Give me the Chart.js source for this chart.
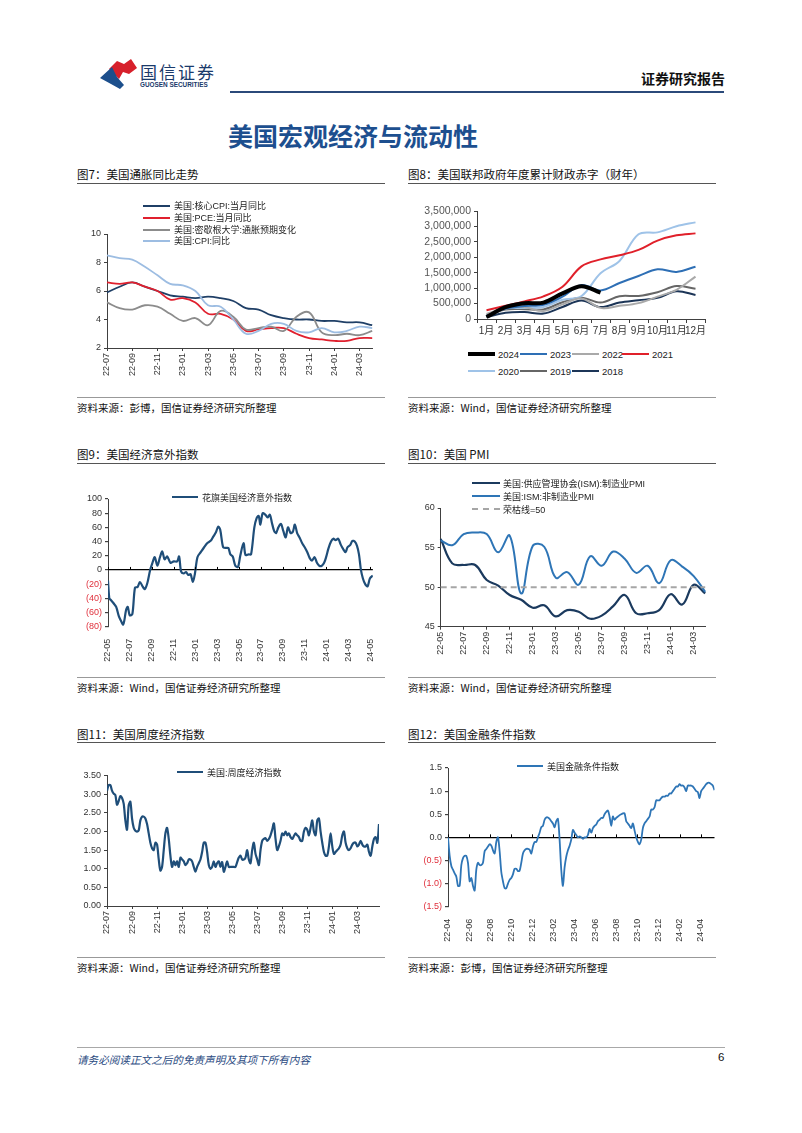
<!DOCTYPE html>
<html>
<head>
<meta charset="utf-8">
<script src="https://cdn.jsdelivr.net/npm/chart.js@4.4.1/dist/chart.umd.min.js"></script>
<style>
body { margin: 0; background: #fff; font-family: "Noto Sans CJK SC", sans-serif; }
#page { position: relative; width: 802px; height: 1133px; overflow: hidden; background: #fff; }
canvas { position: absolute; }
.ftitle { position: absolute; font-size: 11.5px; line-height: 14px; color: #111; white-space: nowrap; }
.src { position: absolute; font-size: 10.5px; line-height: 14px; color: #111; white-space: nowrap; }
.rule { position: absolute; height: 0; }
.li { position: absolute; height: 14px; display: flex; align-items: center; white-space: nowrap; color: #222; font-family: "Liberation Sans", "Noto Sans CJK SC", sans-serif; }
.li i { display: inline-block; height: 0; }
</style>
</head>
<body>
<div id="page">
  <!-- header -->
  <svg style="position:absolute;left:0;top:0" width="140" height="100">
    <path d="M109,69 L117,61 L124,64 L131,59 L137,68 L129,74 L123,72 L119,79 Z" fill="#d7202b"/>
    <path d="M100,78 L112,67 L117,77 L124,85 L120,89 L111,84 Z" fill="#1c4f8c"/>
  </svg>
  <div style="position:absolute;left:140px;top:59px;font-size:17px;letter-spacing:2px;color:#1a3a6b;">国信证券</div>
  <div style="position:absolute;left:140px;top:81px;font-size:6.4px;font-weight:bold;color:#1a3a6b;font-family:'Liberation Sans',sans-serif;">GUOSEN SECURITIES</div>
  <div style="position:absolute;left:641px;top:68px;font-size:14px;font-weight:bold;color:#111;">证券研究报告</div>
  <div class="rule" style="left:230px;top:91px;width:494px;border-top:2px solid #2b4a7a;"></div>
  <div style="position:absolute;left:228px;top:117px;font-size:25px;font-weight:bold;color:#1d4f8f;">美国宏观经济与流动性</div>

  <!-- row 1 -->
  <div class="ftitle" style="left:77px;top:167px;">图7：美国通胀同比走势</div>
  <div class="rule" style="left:77px;top:183px;width:308px;border-top:1.5px solid #555;"></div>
  <div class="rule" style="left:77px;top:397px;width:308px;border-top:1px solid #999;"></div>
  <div class="src" style="left:77px;top:401px;">资料来源：彭博，国信证券经济研究所整理</div>

  <div class="ftitle" style="left:408px;top:167px;">图8：美国联邦政府年度累计财政赤字（财年）</div>
  <div class="rule" style="left:408px;top:183px;width:308px;border-top:1.5px solid #555;"></div>
  <div class="rule" style="left:408px;top:397px;width:308px;border-top:1px solid #999;"></div>
  <div class="src" style="left:408px;top:401px;">资料来源：Wind，国信证券经济研究所整理</div>

  <!-- row 2 -->
  <div class="ftitle" style="left:77px;top:447px;">图9：美国经济意外指数</div>
  <div class="rule" style="left:77px;top:463px;width:308px;border-top:1.5px solid #555;"></div>
  <div class="rule" style="left:77px;top:677px;width:308px;border-top:1px solid #999;"></div>
  <div class="src" style="left:77px;top:681px;">资料来源：Wind，国信证券经济研究所整理</div>

  <div class="ftitle" style="left:408px;top:447px;">图10：美国 PMI</div>
  <div class="rule" style="left:408px;top:463px;width:308px;border-top:1.5px solid #555;"></div>
  <div class="rule" style="left:408px;top:677px;width:308px;border-top:1px solid #999;"></div>
  <div class="src" style="left:408px;top:681px;">资料来源：Wind，国信证券经济研究所整理</div>

  <!-- row 3 -->
  <div class="ftitle" style="left:77px;top:727px;">图11：美国周度经济指数</div>
  <div class="rule" style="left:77px;top:742px;width:308px;border-top:1.5px solid #555;"></div>
  <div class="rule" style="left:77px;top:957px;width:308px;border-top:1px solid #999;"></div>
  <div class="src" style="left:77px;top:961px;">资料来源：Wind，国信证券经济研究所整理</div>

  <div class="ftitle" style="left:408px;top:727px;">图12：美国金融条件指数</div>
  <div class="rule" style="left:408px;top:742px;width:308px;border-top:1.5px solid #555;"></div>
  <div class="rule" style="left:408px;top:957px;width:308px;border-top:1px solid #999;"></div>
  <div class="src" style="left:408px;top:961px;">资料来源：彭博，国信证券经济研究所整理</div>

  <!-- footer -->
  <div class="rule" style="left:77px;top:1047px;width:648px;border-top:1.5px solid #a8a8a8;"></div>
  <div style="position:absolute;left:77px;top:1052px;font-size:10.6px;font-style:italic;color:#2a4a7f;">请务必阅读正文之后的免责声明及其项下所有内容</div>
  <div style="position:absolute;left:718px;top:1051px;font-size:11.5px;color:#111;font-family:'Liberation Sans',sans-serif;">6</div>
</div>

<script>
// ---------- data ----------
// 图7 美国通胀（%）
var inflMonths = ['22-07','22-08','22-09','22-10','22-11','22-12','23-01','23-02','23-03','23-04','23-05','23-06',
                  '23-07','23-08','23-09','23-10','23-11','23-12','24-01','24-02','24-03','24-04'];
var coreCpi  = [5.9,6.3,6.6,6.3,6.0,5.7,5.6,5.5,5.6,5.5,5.3,4.8,4.7,4.3,4.1,4.0,4.0,3.9,3.9,3.8,3.8,3.6];
var pce      = [6.6,6.5,6.6,6.3,6.0,5.4,5.5,5.2,4.4,4.4,4.0,3.2,3.3,3.4,3.4,3.0,2.7,2.6,2.5,2.5,2.7,2.7];
var michigan = [5.2,4.8,4.7,5.0,4.9,4.4,3.9,4.1,3.6,4.6,4.2,3.3,3.4,3.5,3.2,4.2,4.5,3.1,2.9,3.0,2.9,3.2];
var cpi      = [8.5,8.3,8.2,7.7,7.1,6.5,6.4,6.0,5.0,4.9,4.0,3.0,3.2,3.7,3.7,3.2,3.1,3.4,3.1,3.2,3.5,3.4];

// 图8 财年累计赤字（百万美元）
var fiscalMonths = ['1月','2月','3月','4月','5月','6月','7月','8月','9月','10月','11月','12月'];
var deficit2024 = [67000,382000,510000,532000,828000,1065000,855000];
var deficit2023 = [88000,337000,421000,460000,723000,1100000,925000,1165000,1393000,1613000,1525000,1695000];
var deficit2022 = [165000,356000,377000,259000,475000,668000,360000,426000,515000,726000,946000,1375000];
var deficit2021 = [284000,429000,572000,735000,1047000,1706000,1932000,2064000,2238000,2540000,2711000,2775000];
var deficit2020 = [134000,343000,357000,389000,625000,744000,1482000,1881000,2745000,2808000,3007000,3132000];
var deficit2019 = [100000,305000,319000,310000,544000,691000,531000,739000,747000,867000,1067000,984000];
var deficit2018 = [63000,201000,225000,176000,391000,600000,386000,532000,607000,684000,898000,779000];

// 图9 花旗经济意外指数：时间为自22-05起的月数
var citiMonths = [0,0.12,0.24,0.51,0.75,0.99,1.23,1.39,1.51,1.66,1.81,1.99,2.23,2.47,2.71,2.92,3.16,3.37,3.61,3.86,
  4.07,4.28,4.52,4.76,4.97,5.18,5.42,5.72,6.02,6.33,6.51,6.69,6.93,7.14,7.35,7.56,7.77,7.95,8.19,8.49,
  8.80,9.10,9.40,9.64,9.88,10.09,10.27,10.54,10.78,11.02,11.20,11.42,11.66,11.90,12.11,12.41,12.59,12.89,13.10,13.40,
  13.61,13.80,13.95,14.16,14.40,14.61,14.82,15.00,15.21,15.39,15.60,15.84,16.05,16.27,16.48,16.72,16.93,17.11,17.32,17.56,
  17.77,18.01,18.25,18.46,18.67,18.92,19.13,19.34,19.58,19.79,19.97,20.18,20.42,20.63,20.84,21.08,21.30,21.51,21.75,21.93,
  22.17,22.38,22.59,22.80,22.98,23.16,23.34,23.55,23.77,23.98,24.25];
var citiValues = [-15,-40,-42,-47,-52,-65,-73,-77,-70,-56,-52,-64,-62,-25,-24,-17,-23,-27,-18,0,
  10,18,6,18,26,15,19,10,12,12,19,-2,-5,-3,-7,-6,-17,-6,18,25,
  32,38,41,47,53,61,57,32,31,31,22,19,6,4,20,38,21,22,22,60,
  73,76,64,80,78,74,78,67,55,52,60,65,55,46,60,52,54,64,52,45,
  38,32,25,17,13,18,10,6,6,10,18,30,40,44,42,44,36,30,25,32,
  35,41,40,34,22,0,-12,-20,-23,-12,-8];
var citiTicks = ['22-05','22-07','22-09','22-11','23-01','23-03','23-05','23-07','23-09','23-11','24-01','24-03','24-05'];

// 图10 ISM PMI
var pmiMonths = ['22-05','22-06','22-07','22-08','22-09','22-10','22-11','22-12','23-01','23-02','23-03','23-04',
                 '23-05','23-06','23-07','23-08','23-09','23-10','23-11','23-12','24-01','24-02','24-03','24-04'];
var ismMfg = [56.1,53.0,52.8,52.8,50.9,50.2,49.0,48.4,47.4,47.7,46.3,47.1,46.9,46.0,46.4,47.6,49.0,46.7,46.7,47.1,49.1,47.8,50.3,49.2];
var ismSvc = [55.9,55.3,56.7,56.9,56.7,54.4,56.5,49.2,55.2,55.1,51.2,51.9,50.3,53.9,52.7,54.5,53.6,51.8,52.7,50.5,53.4,52.6,51.4,49.4];
var pmiThreshold = 50;

// 图11 周度经济指数：22-07 起，至约 21.7 个月
var weiSpanMonths = 21.73;
var weiValues = [3.10,3.25,3.25,3.10,3.02,2.98,2.72,2.82,2.95,2.90,2.75,2.30,2.05,2.70,2.80,2.35,2.10,2.02,2.00,2.03,
  2.30,2.40,2.40,2.35,2.20,1.95,1.70,1.55,1.50,1.70,1.65,1.25,0.95,1.05,1.50,1.95,2.10,1.80,1.35,1.05,
  1.20,1.10,1.20,1.05,1.30,1.25,1.20,1.10,1.15,1.25,1.25,1.20,1.05,0.92,1.05,1.15,1.25,1.45,1.70,1.70,
  1.45,1.10,1.00,1.05,1.20,1.05,1.15,1.20,1.05,1.18,0.92,1.05,1.20,1.05,1.05,1.05,1.05,1.05,1.18,1.30,
  1.35,1.25,1.25,1.30,1.50,1.25,1.15,1.50,1.70,1.40,1.25,1.10,1.50,1.75,1.80,1.82,1.75,1.80,1.90,2.05,
  2.22,1.80,1.50,1.60,1.75,1.95,1.90,2.00,1.90,1.95,1.85,1.80,1.88,1.95,1.90,1.85,1.75,1.75,2.00,2.10,
  2.05,1.90,2.10,2.30,2.00,1.90,2.30,2.35,2.00,1.70,1.45,1.35,1.35,1.60,1.95,1.60,1.40,1.45,1.50,1.55,
  1.65,1.90,2.00,1.70,1.55,1.50,1.55,1.65,1.70,1.70,1.60,1.65,1.75,1.65,1.60,1.60,1.65,1.45,1.35,1.60,
  1.80,1.85,1.70,2.20];
var weiTicks = ['22-07','22-09','22-11','23-01','23-03','23-05','23-07','23-09','23-11','24-01','24-03'];

// 图12 金融条件指数：22-04 起，至约 25.3 个月
var fciSpanMonths = 25.32;
var fciValues = [0.00,-0.40,-0.62,-0.70,-0.78,-0.85,-1.05,-1.05,-0.60,-0.45,-0.40,-0.40,-0.55,-0.95,-0.88,-1.05,-1.15,-0.70,-0.55,-0.60,
  -0.60,-0.55,-0.30,-0.25,-0.20,-0.15,-0.18,-0.28,-0.35,-0.10,0.00,-0.30,-0.75,-0.95,-1.10,-1.10,-1.00,-0.92,-0.88,-0.80,
  -0.68,-0.68,-0.73,-0.72,-0.55,-0.35,-0.28,-0.25,-0.25,-0.27,-0.35,-0.20,-0.10,-0.10,0.00,0.10,0.22,0.25,0.38,0.43,
  0.43,0.40,0.35,0.30,0.22,0.35,0.40,-0.05,-0.70,-1.05,-0.65,-0.42,-0.28,-0.18,-0.05,0.16,0.10,0.05,0.00,0.02,
  0.00,-0.03,0.00,0.00,0.05,0.18,0.10,0.20,0.25,0.28,0.35,0.38,0.42,0.42,0.50,0.55,0.58,0.45,0.25,0.45,
  0.38,0.42,0.45,0.48,0.50,0.52,0.52,0.35,0.30,0.25,0.20,0.30,0.15,0.00,-0.10,-0.15,-0.05,0.20,0.30,0.35,
  0.40,0.45,0.60,0.60,0.65,0.80,0.80,0.80,0.85,0.88,0.88,0.90,0.90,0.95,0.95,1.00,1.05,1.10,1.10,1.15,
  1.12,1.12,1.08,1.00,1.12,1.12,1.12,1.10,1.05,1.00,0.98,0.85,1.00,1.05,1.10,1.15,1.18,1.18,1.15,1.12,
  1.02];
var fciTicks = ['22-04','22-06','22-08','22-10','22-12','23-02','23-04','23-06','23-08','23-10','23-12','24-02','24-04'];

// ---------- helpers ----------
var page = document.getElementById('page');
var AX = '#404040';
var NEG = '#e0303c';

Chart.defaults.font.family = '"Liberation Sans","Noto Sans CJK SC",sans-serif';
Chart.defaults.font.size = 9;
Chart.defaults.color = '#333';
Chart.defaults.animation = false;
Chart.defaults.plugins.legend.display = false;
Chart.defaults.plugins.tooltip.enabled = false;
Chart.defaults.elements.point.radius = 0;

function makeCanvas(left, top, w, h) {
  var c = document.createElement('canvas');
  c.width = w; c.height = h;
  c.style.left = left + 'px'; c.style.top = top + 'px';
  c.style.width = w + 'px'; c.style.height = h + 'px';
  page.appendChild(c);
  return c;
}

function legend(items) {
  items.forEach(function (it) {
    var d = document.createElement('div');
    d.className = 'li';
    d.style.left = it.x + 'px';
    d.style.top = (it.y - 7) + 'px';
    d.style.fontSize = (it.size || 9) + 'px';
    var ln = document.createElement('i');
    ln.style.width = (it.len || 27) + 'px';
    ln.style.borderTop = it.w + 'px ' + (it.dash ? 'dashed' : 'solid') + ' ' + it.color;
    ln.style.marginRight = (it.gap || 4) + 'px';
    d.appendChild(ln);
    d.appendChild(document.createTextNode(it.label));
    page.appendChild(d);
  });
}

function xy(xs, ys) {
  return ys.map(function (v, i) { return { x: xs[i], y: v }; });
}
function evenSpread(values, span) {
  var step = span / (values.length - 1);
  return values.map(function (v, i) { return { x: i * step, y: v }; });
}
function tickSetter(labels) {
  return function (s) { s.ticks = labels.map(function (l, i) { return { value: i * 2 }; }); };
}
function tickLabel(labels) {
  return function (v) { return labels[Math.round(v / 2)]; };
}

// zero line tick marks for charts whose category axis sits at 0
var zeroTicks = {
  id: 'zeroTicks',
  afterDatasetsDraw: function (chart) {
    var x = chart.scales.x, y = chart.scales.y, ctx = chart.ctx;
    var y0 = y.getPixelForValue(0);
    ctx.save();
    ctx.strokeStyle = '#000';
    ctx.lineWidth = 1;
    x.ticks.forEach(function (t) {
      var px = Math.round(x.getPixelForValue(t.value)) + 0.5;
      ctx.beginPath(); ctx.moveTo(px, y0); ctx.lineTo(px, y0 - 3); ctx.stroke();
    });
    ctx.restore();
  }
};

// ---------- 图7 ----------
var s7 = [
  { label: '美国:核心CPI:当月同比', data: coreCpi, color: '#1f3f66' },
  { label: '美国:PCE:当月同比', data: pce, color: '#e0202e' },
  { label: '美国:密歇根大学:通胀预期变化', data: michigan, color: '#8c8c8c' },
  { label: '美国:CPI:同比', data: cpi, color: '#9dbde2' }
];
new Chart(makeCanvas(77, 190, 308, 200), {
  type: 'line',
  data: {
    labels: inflMonths,
    datasets: s7.map(function (s, i) {
      return { label: s.label, data: s.data, borderColor: s.color, borderWidth: 1.8, tension: 0.4, order: s7.length - i };
    })
  },
  options: {
    responsive: false,
    layout: { padding: { top: 44, right: 11 } },
    scales: {
      x: {
        grid: { drawOnChartArea: false, tickLength: 3, color: function (c) { return c.index % 2 ? 'rgba(0,0,0,0)' : AX; } },
        border: { color: AX },
        ticks: { autoSkip: false, minRotation: 90, maxRotation: 90, padding: 2,
                 callback: function (v, i) { return i % 2 ? '' : inflMonths[i]; } },
        afterFit: function (s) { s.height = 42; }
      },
      y: {
        min: 2, max: 10,
        ticks: { stepSize: 2, autoSkip: false },
        grid: { drawOnChartArea: false, tickLength: 3, color: AX },
        border: { color: AX },
        afterFit: function (s) { s.width = 30; }
      }
    }
  }
});
legend(s7.map(function (s, i) {
  return { x: 143, y: [205.7, 217.7, 229.5, 240.7][i], label: s.label, color: s.color, w: 2 };
}));

// ---------- 图8 ----------
var s8 = [
  { label: '2024', data: deficit2024, color: '#000000', w: 4 },
  { label: '2023', data: deficit2023, color: '#2e6fb5', w: 2 },
  { label: '2022', data: deficit2022, color: '#a9a9a9', w: 2 },
  { label: '2021', data: deficit2021, color: '#e0202a', w: 2 },
  { label: '2020', data: deficit2020, color: '#9fc3e8', w: 2 },
  { label: '2019', data: deficit2019, color: '#666666', w: 2 },
  { label: '2018', data: deficit2018, color: '#1c3557', w: 2 }
];
new Chart(makeCanvas(408, 190, 310, 150), {
  type: 'line',
  data: {
    labels: fiscalMonths,
    datasets: s8.map(function (s) {
      return { label: s.label, data: s.data, borderColor: s.color, borderWidth: s.w, tension: 0.35 };
    })
  },
  options: {
    responsive: false,
    layout: { padding: { top: 21, right: 13 } },
    scales: {
      x: {
        offset: true,
        grid: { offset: true, drawOnChartArea: false, tickLength: 4, color: AX },
        border: { color: AX },
        ticks: { autoSkip: false, maxRotation: 0, padding: 2, font: { size: 10 } },
        afterFit: function (s) { s.height = 21; }
      },
      y: {
        min: 0, max: 3500000,
        ticks: { stepSize: 500000, autoSkip: false, font: { size: 10.5 }, color: '#555',
                 callback: function (v) { return v.toLocaleString('en-US'); } },
        grid: { drawOnChartArea: false, tickLength: 3, color: AX },
        border: { color: AX },
        afterFit: function (s) { s.width = 69; }
      }
    }
  }
});
legend(s8.map(function (s, i) {
  return { x: [468, 520, 572, 622][i % 4], y: i < 4 ? 354.3 : 371, label: s.label, color: s.color,
           w: s.w === 4 ? 4 : 2, gap: 3, size: 9.5 };
}));

// ---------- 图9 ----------
var citiLabel = '花旗美国经济意外指数';
new Chart(makeCanvas(77, 470, 308, 205), {
  type: 'line',
  data: { datasets: [{ label: citiLabel, data: xy(citiMonths, citiValues), borderColor: '#1f4e79', borderWidth: 2.2, tension: 0.3 }] },
  options: {
    responsive: false,
    layout: { padding: { top: 29, right: 8.5 } },
    scales: {
      x: {
        type: 'linear', min: 0, max: 24.25,
        grid: { display: false }, border: { display: false },
        afterBuildTicks: tickSetter(citiTicks),
        ticks: { autoSkip: false, minRotation: 90, maxRotation: 90, padding: 4, callback: tickLabel(citiTicks) },
        afterFit: function (s) { s.height = 48.3; }
      },
      y: {
        min: -80, max: 100,
        ticks: { stepSize: 20, autoSkip: false,
                 callback: function (v) { return v < 0 ? '(' + (-v) + ')' : v; },
                 color: function (c) { return c.tick.value < 0 ? NEG : '#333'; } },
        grid: { color: function (c) { return c.tick.value === 0 ? '#000' : 'rgba(0,0,0,0)'; },
                tickColor: AX, tickLength: 3, lineWidth: 1.2 },
        border: { color: AX },
        afterFit: function (s) { s.width = 31; }
      }
    }
  },
  plugins: [zeroTicks]
});
legend([{ x: 172, y: 497, label: citiLabel, color: '#1f4e79', w: 2.5, len: 26 }]);

// ---------- 图10 ----------
var s10 = [
  { label: '美国:供应管理协会(ISM):制造业PMI', data: ismMfg, color: '#1b3a5e', w: 2.2 },
  { label: '美国:ISM:非制造业PMI', data: ismSvc, color: '#2e75b6', w: 2 },
  { label: '荣枯线=50', data: pmiMonths.map(function () { return pmiThreshold; }), color: '#a6a6a6', w: 2, dash: true }
];
new Chart(makeCanvas(408, 470, 310, 205), {
  type: 'line',
  data: {
    labels: pmiMonths,
    datasets: s10.map(function (s, i) {
      return { label: s.label, data: s.data, borderColor: s.color, borderWidth: s.w, tension: s.dash ? 0 : 0.4,
               borderDash: s.dash ? [6, 4] : [], order: s10.length - i };
    })
  },
  options: {
    responsive: false,
    layout: { padding: { top: 38, right: 8 } },
    scales: {
      x: {
        grid: { drawOnChartArea: false, tickLength: 3, color: function (c) { return c.index % 2 ? 'rgba(0,0,0,0)' : AX; } },
        border: { color: AX },
        ticks: { autoSkip: false, minRotation: 90, maxRotation: 90, padding: 2,
                 callback: function (v, i) { return i % 2 ? '' : pmiMonths[i]; } },
        afterFit: function (s) { s.height = 48.3; }
      },
      y: {
        min: 45, max: 60,
        ticks: { stepSize: 5, autoSkip: false },
        grid: { drawOnChartArea: false, tickLength: 3, color: AX },
        border: { color: AX },
        afterFit: function (s) { s.width = 32.7; }
      }
    }
  }
});
legend(s10.map(function (s, i) {
  return { x: 472, y: [483, 496, 509][i], label: s.label, color: s.color, w: 2, dash: s.dash, len: 28, gap: 3 };
}));

// ---------- 图11 ----------
var weiLabel = '美国:周度经济指数';
new Chart(makeCanvas(77, 750, 308, 205), {
  type: 'line',
  data: { datasets: [{ label: weiLabel, data: evenSpread(weiValues, weiSpanMonths), borderColor: '#1f4e79', borderWidth: 2.2, tension: 0.3 }] },
  options: {
    responsive: false,
    layout: { padding: { top: 25.7, right: 6 } },
    scales: {
      x: {
        type: 'linear', min: 0, max: weiSpanMonths,
        grid: { drawOnChartArea: false, tickLength: 3, color: AX },
        border: { color: AX },
        afterBuildTicks: tickSetter(weiTicks),
        ticks: { autoSkip: false, minRotation: 90, maxRotation: 90, padding: 2, callback: tickLabel(weiTicks) },
        afterFit: function (s) { s.height = 49; }
      },
      y: {
        min: 0, max: 3.5,
        ticks: { stepSize: 0.5, autoSkip: false, callback: function (v) { return v.toFixed(2); } },
        grid: { drawOnChartArea: false, tickLength: 3, color: AX },
        border: { color: AX },
        afterFit: function (s) { s.width = 30; }
      }
    }
  }
});
legend([{ x: 177, y: 772, label: weiLabel, color: '#1f4e79', w: 2.5, len: 26 }]);

// ---------- 图12 ----------
var fciLabel = '美国金融条件指数';
new Chart(makeCanvas(408, 750, 310, 205), {
  type: 'line',
  data: { datasets: [{ label: fciLabel, data: evenSpread(fciValues, fciSpanMonths), borderColor: '#2e75b6', borderWidth: 1.8, tension: 0.3 }] },
  options: {
    responsive: false,
    layout: { padding: { top: 18, right: 3.5 } },
    scales: {
      x: {
        type: 'linear', min: 0, max: fciSpanMonths,
        grid: { display: false }, border: { display: false },
        afterBuildTicks: tickSetter(fciTicks),
        ticks: { autoSkip: false, minRotation: 90, maxRotation: 90, padding: 4, callback: tickLabel(fciTicks) },
        afterFit: function (s) { s.height = 48.3; }
      },
      y: {
        min: -1.5, max: 1.5,
        ticks: { stepSize: 0.5, autoSkip: false,
                 callback: function (v) { return v < -1e-9 ? '(' + (-v).toFixed(1) + ')' : Math.abs(v).toFixed(1); },
                 color: function (c) { return c.tick.value < -1e-9 ? NEG : '#333'; } },
        grid: { color: function (c) { return Math.abs(c.tick.value) < 1e-9 ? '#000' : 'rgba(0,0,0,0)'; },
                tickColor: AX, tickLength: 3, lineWidth: 1.2 },
        border: { color: AX },
        afterFit: function (s) { s.width = 40; }
      }
    }
  },
  plugins: [zeroTicks]
});
legend([{ x: 517, y: 766, label: fciLabel, color: '#2e75b6', w: 2.2, len: 26 }]);
</script>
</body>
</html>
